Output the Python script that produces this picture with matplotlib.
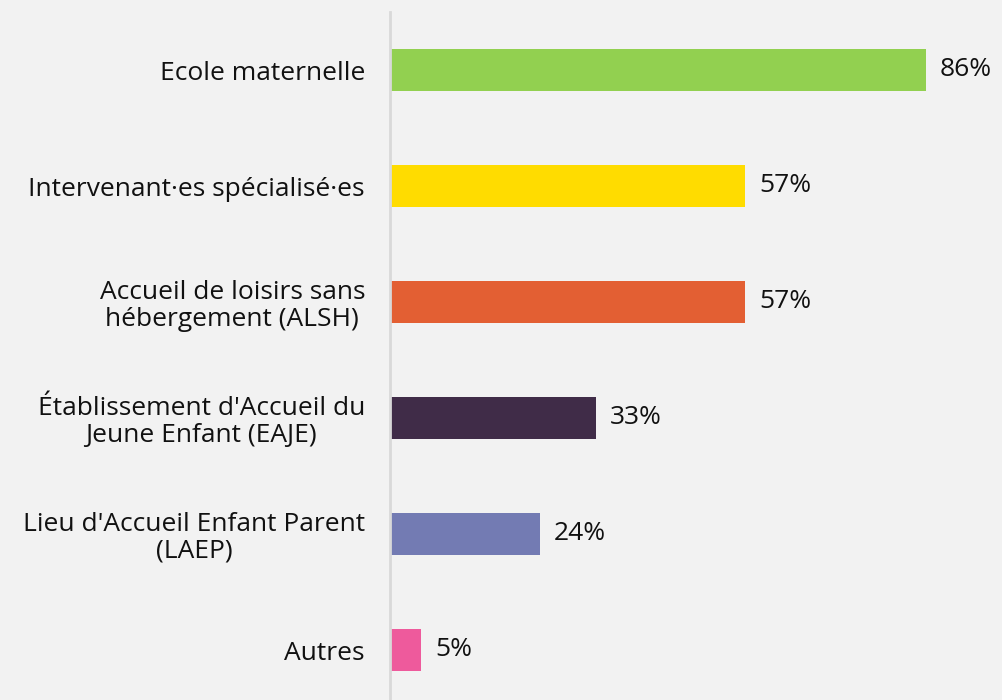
import matplotlib.pyplot as plt

categories = [
    'Ecole maternelle',
    'Intervenant·es spécialisé·es',
    'Accueil de loisirs sans\nhébergement (ALSH)',
    "Établissement d'Accueil du\nJeune Enfant (EAJE)",
    "Lieu d'Accueil Enfant Parent\n(LAEP)",
    'Autres',
]
values = [86, 57, 57, 33, 24, 5]
colors = ['#92D050', '#FFDC00', '#E35F33', '#402C48', '#737BB3', '#EE5A9C']

plt.rcParams['font.family'] = ['Open Sans', 'DejaVu Sans']

fig = plt.figure(figsize=(10.02, 7), dpi=100, facecolor='#F2F2F2')
ax = fig.add_axes([390 / 1002, -8 / 700, 612 / 1002, 696 / 700])
ax.set_facecolor('#F2F2F2')

y = list(range(len(categories)))
ax.barh(y, values, height=0.36, color=colors)

for yi, v in zip(y, values):
    ax.text(v + 2.2, yi, f'{v}%', va='center', ha='left', fontsize=19, color='#111111')

ax.set_ylim(len(categories) - 0.5, -0.5)
ax.set_xlim(0, 98.2)
ax.set_yticks(y)
ax.set_yticklabels(categories, fontsize=19, color='#111111', ha='right',
                   multialignment='center', linespacing=1.08)
ax.tick_params(axis='y', length=0, pad=18)
ax.set_xticks([])

for side in ['top', 'right', 'bottom']:
    ax.spines[side].set_visible(False)
ax.spines['left'].set_color('#D9D9D9')
ax.spines['left'].set_linewidth(2)

fig.savefig('out.png', dpi=100, facecolor=fig.get_facecolor())
